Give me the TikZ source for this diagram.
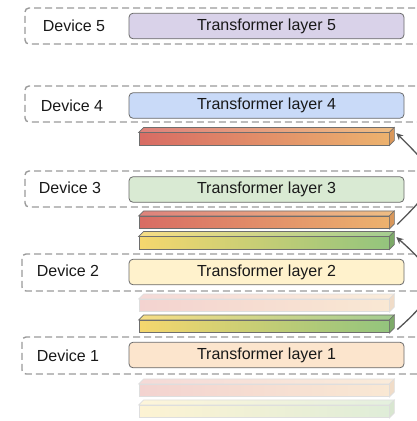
\documentclass[tikz,border=0pt]{standalone}
\usepackage{fontspec}
\setmainfont{Liberation Sans}
\usetikzlibrary{arrows.meta,calc}
\definecolor{dashgray}{HTML}{9A9A9A}
\definecolor{boxedge}{HTML}{6A6A6A}
\definecolor{tlfive}{HTML}{D9D2E9}
\definecolor{tlfour}{HTML}{C9DAF8}
\definecolor{tlthree}{HTML}{D9EAD3}
\definecolor{tltwo}{HTML}{FFF2CC}
\definecolor{tlone}{HTML}{FCE5CD}
\definecolor{redL}{HTML}{D86C64}
\definecolor{redR}{HTML}{ECB26E}
\definecolor{redS}{HTML}{D9975A}
\definecolor{grnL}{HTML}{F5D76E}
\definecolor{grnR}{HTML}{93C47D}
\definecolor{grnS}{HTML}{7DAA68}
\definecolor{fredL}{HTML}{F3D3D0}
\definecolor{fredR}{HTML}{F9E8D3}
\definecolor{fredS}{HTML}{F0DCC8}
\definecolor{fgrnL}{HTML}{FDF3D3}
\definecolor{fgrnR}{HTML}{DFEDD8}
\definecolor{fgrnS}{HTML}{D8E6D0}
\definecolor{baredge}{HTML}{6E6E6E}
\definecolor{fadeedge}{HTML}{DEDEDE}
\definecolor{arrowgray}{HTML}{555555}
\newcommand\drawbar[6]{%
  \node[barface, left color=#3, right color=#4, draw=#6] (#1) at (264,#2) {};
  \path[draw=#6, line width=0.6, left color=#3!85!white, right color=#4!85!white]
    (#1.north west) -- ++(5,-5) -- ($(#1.north east)+(5,-5)$) -- (#1.north east) -- cycle;
  \path[draw=#6, line width=0.6, fill=#5]
    (#1.north east) -- ++(5,-5) -- ($(#1.south east)+(5,-5)$) -- (#1.south east) -- cycle;
}
\begin{document}
\begin{tikzpicture}[x=1pt,y=-1pt,
  devbox/.style={draw=dashgray, line width=1.4, dash pattern=on 7pt off 4pt,
    rounded corners=4, minimum height=36, inner sep=0},
  layerbox/.style={draw=boxedge, line width=0.8, rounded corners=4,
    minimum width=275, minimum height=25.5, inner sep=0, font=\fontsize{16}{18}\selectfont, text=black!90},
  devlabel/.style={font=\fontsize{16}{18}\selectfont, text=black!90, inner sep=0},
  barface/.style={line width=0.6, minimum width=250, minimum height=12.5, inner sep=0},
  conn/.style={draw=arrowgray, line width=1.3, -{Stealth[length=7,width=6.5]}}
]
\useasboundingbox (0,0) rectangle (416,421);

% device dashed boxes
\node[devbox, minimum width=405] (d5) at (227.5,26) {};
\node[devbox, minimum width=405] (d4) at (227.5,104) {};
\node[devbox, minimum width=405] (d3) at (227.5,189) {};
\node[devbox, minimum width=408, minimum height=37] (d2) at (226,272.5) {};
\node[devbox, minimum width=408, minimum height=37] (d1) at (226,355.5) {};

% device labels
\node[devlabel] (l5) at (74,26) {Device 5};
\node[devlabel] (l4) at (72,106) {Device 4};
\node[devlabel] (l3) at (70,188) {Device 3};
\node[devlabel] (l2) at (68,271) {Device 2};
\node[devlabel] (l1) at (68,356) {Device 1};

% transformer layers
\node[layerbox, fill=tlfive] (t5) at (266.5,26) {Transformer layer 5};
\node[layerbox, fill=tlfour] (t4) at (266.5,105.5) {Transformer layer 4};
\node[layerbox, fill=tlthree] (t3) at (266.5,189.5) {Transformer layer 3};
\node[layerbox, fill=tltwo] (t2) at (266.5,272) {Transformer layer 2};
\node[layerbox, fill=tlone] (t1) at (266.5,355) {Transformer layer 1};

% bars
\drawbar{b4r}{139}{redL}{redR}{redS}{baredge}
\drawbar{b3r}{222.5}{redL}{redR}{redS}{baredge}
\drawbar{b3g}{243}{grnL}{grnR}{grnS}{baredge}
\drawbar{b2r}{305.5}{fredL}{fredR}{fredS}{fadeedge}
\drawbar{b2g}{326.5}{grnL}{grnR}{grnS}{baredge}
\drawbar{b1r}{390.5}{fredL}{fredR}{fredS}{fadeedge}
\drawbar{b1g}{411.5}{fgrnL}{fgrnR}{fgrnS}{fadeedge}

% connectors
\coordinate (s3r) at ($(b3r.east)+(8,2)$);
\coordinate (e4r) at ($(b4r.east)+(7,-6)$);
\coordinate (s2g) at ($(b2g.east)+(8,3)$);
\coordinate (e3g) at ($(b3g.east)+(7,-6)$);
\draw[conn] (s3r) .. controls ($(s3r)+(45,-45)$) and ($(e4r)+(45,45)$) .. (e4r);
\draw[conn] (s2g) .. controls ($(s2g)+(45,-40)$) and ($(e3g)+(45,40)$) .. (e3g);
\end{tikzpicture}
\end{document}
